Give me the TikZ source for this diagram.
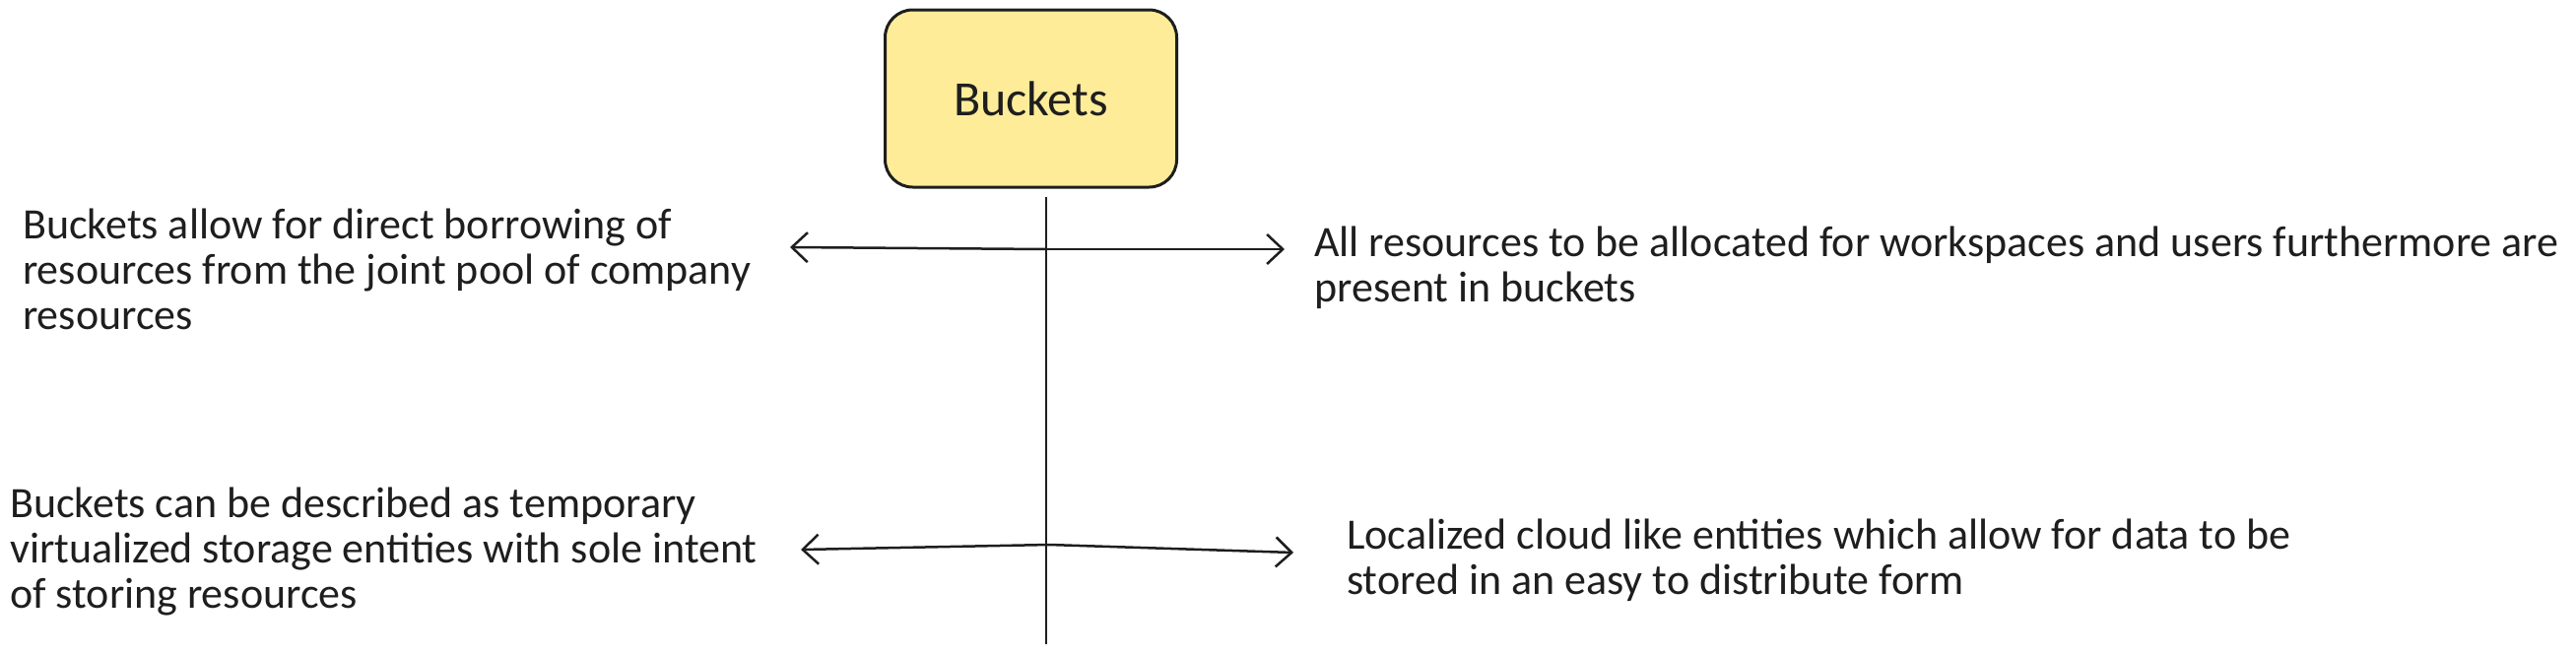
\documentclass[tikz,border=0pt]{standalone}
\usepackage{fontspec}
\setmainfont{Carlito}
\usetikzlibrary{arrows.meta}
\definecolor{ink}{HTML}{1E1E1E}
\definecolor{boxfill}{HTML}{FFEC99}
\begin{document}
\begin{tikzpicture}[x=1pt,y=-1pt,
  titlebox/.style={draw=ink,line width=3pt,fill=boxfill,rounded corners=28pt,minimum width=296pt,minimum height=180pt,inner sep=0pt,text=ink,font=\fontsize{50}{56}\selectfont},
  note/.style={text=ink,align=left,inner sep=0pt,anchor=base west,font=\fontsize{44}{46}\selectfont},
  link/.style={draw=ink,line width=2.5pt,-{Straight Barb[length=16pt,width=30pt,line width=2.5pt]}},
  axis/.style={draw=ink,line width=2.5pt}]
\useasboundingbox (0,0) rectangle (2615,664);
\node[titlebox] (b) at (1046.5,100) {Buckets};
\coordinate (vtop) at (1062,200);
\coordinate (vbot) at (1062,654);
\draw[axis] (vtop) -- (vbot);
% top arrows
\coordinate (c1) at (1062,253);
\coordinate (l1) at (802,251);
\coordinate (r1) at (1304,253);
\draw[link] (c1) -- (l1);
\draw[link] (c1) -- (r1);
% bottom arrows
\coordinate (c2) at (1065,553);
\coordinate (l2) at (813,558);
\coordinate (r2) at (1313,561);
\draw[link] (c2) -- (l2);
\draw[link] (c2) -- (r2);
% texts (base anchor = baseline of last line)
\node[note] (tl) at (23,334) {Buckets allow for direct borrowing of\\resources from the joint pool of company\\resources};
\node[note] (tr) at (1334,306) {All resources to be allocated for workspaces and users furthermore are\\present in buckets};
\node[note] (bl) at (10,617) {Buckets can be described as temporary\\virtualized storage entities with sole intent\\of storing resources};
\node[note] (br) at (1367,603) {Localized cloud like entities which allow for data to be\\stored in an easy to distribute form};
\end{tikzpicture}
\end{document}
